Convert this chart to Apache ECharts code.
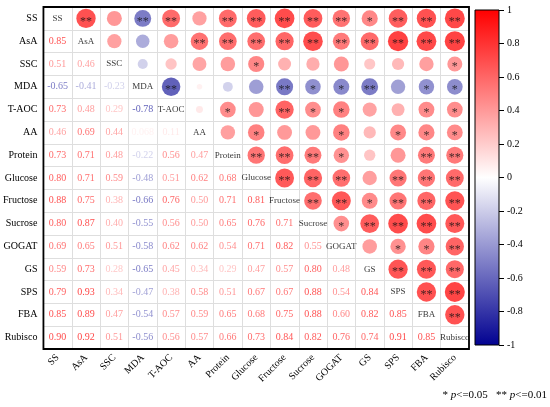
<!DOCTYPE html>
<html>
<head>
<meta charset="utf-8">
<script src="https://cdn.jsdelivr.net/npm/echarts@6/dist/echarts.min.js"></script>
<style>
html, body { margin: 0; padding: 0; background: #fff; }
#chart { width: 550px; height: 407px; }
</style>
</head>
<body>
<div id="chart"></div>
<script>
// variables, top to bottom / left to right
const names = ["SS", "AsA", "SSC", "MDA", "T-AOC", "AA", "Protein", "Glucose",
  "Fructose", "Sucrose", "GOGAT", "GS", "SPS", "FBA", "Rubisco"];

// lower triangle: row i holds r with columns 0..i-1
const corr = [
  [],
  [0.85],
  [0.51, 0.46],
  [-0.65, -0.41, -0.23],
  [0.73, 0.48, 0.29, -0.78],
  [0.46, 0.69, 0.44, 0.068, 0.11],
  [0.73, 0.71, 0.48, -0.22, 0.56, 0.47],
  [0.80, 0.71, 0.59, -0.48, 0.51, 0.62, 0.68],
  [0.88, 0.75, 0.38, -0.66, 0.76, 0.50, 0.71, 0.81],
  [0.80, 0.87, 0.40, -0.55, 0.56, 0.50, 0.65, 0.76, 0.71],
  [0.69, 0.65, 0.51, -0.58, 0.62, 0.62, 0.54, 0.71, 0.82, 0.55],
  [0.59, 0.73, 0.28, -0.65, 0.45, 0.34, 0.29, 0.47, 0.57, 0.80, 0.48],
  [0.79, 0.93, 0.34, -0.47, 0.38, 0.58, 0.51, 0.67, 0.67, 0.88, 0.54, 0.84],
  [0.85, 0.89, 0.47, -0.54, 0.57, 0.59, 0.65, 0.68, 0.75, 0.88, 0.60, 0.82, 0.85],
  [0.90, 0.92, 0.51, -0.56, 0.56, 0.57, 0.66, 0.73, 0.84, 0.82, 0.76, 0.74, 0.91, 0.85]
];

// significance marks, upper triangle: row i holds columns i+1..14
const sig = [
  ["**", "", "**", "**", "", "**", "**", "**", "**", "**", "*", "**", "**", "**"],
  ["", "", "", "**", "**", "**", "**", "**", "**", "**", "**", "**", "**"],
  ["", "", "", "", "*", "", "", "", "", "", "", "*"],
  ["**", "", "", "", "**", "*", "*", "**", "", "*", "*"],
  ["", "*", "", "**", "*", "*", "", "", "*", "*"],
  ["", "*", "", "", "*", "", "*", "*", "*"],
  ["**", "**", "**", "*", "", "", "**", "**"],
  ["**", "**", "**", "", "**", "**", "**"],
  ["**", "**", "*", "**", "**", "**"],
  ["*", "**", "**", "**", "**"],
  ["", "*", "*", "**"],
  ["**", "**", "**"],
  ["**", "**"],
  ["**"],
  []
];

const barTicks = [1, -1];

const FONT = '"Times New Roman", "Liberation Serif", serif';
const RED = [255, 0, 0];
const BLUE = [2, 2, 145];

function colorOf(v) {
  const t = Math.min(1, Math.abs(v));
  const end = v >= 0 ? RED : BLUE;
  const c = end.map(e => Math.round(255 + (e - 255) * t));
  return "rgb(" + c.join(",") + ")";
}

function fmt(v) {
  return Math.abs(v) < 0.1 ? v.toFixed(3) : v.toFixed(2);
}

let circles = [];
let numbers = [];
let diag = [];
names.forEach((n, i) => {
  diag.push([i, i, n]);
  for (let j = 0; j < i; j++) {
    const r = corr[i][j];
    numbers.push({ value: [j, i, r], label: { color: colorOf(r) } });
  }
  for (let j = i + 1; j < names.length; j++) {
    const r = corr[j][i];
    circles.push({
      value: [j, i, r],
      stars: sig[i][j - i - 1],
      itemStyle: { color: colorOf(r) }
    });
  }
});

const textOnly = {
  type: "scatter",
  symbol: "rect",
  symbolSize: 1,
  silent: true,
  itemStyle: { color: "rgba(0,0,0,0)" }
};

let options = {
  animation: false,
  backgroundColor: "#fff",
  grid: [
    { left: 43, top: 7, width: 426, height: 342, show: true,
      borderColor: "#000", borderWidth: 1.8, backgroundColor: "transparent", z: 5 },
    { left: 475, top: 10, width: 24, height: 335, show: true,
      borderColor: "#000", borderWidth: 1, backgroundColor: "transparent", z: 5 }
  ],
  xAxis: [
    {
      gridIndex: 0, type: "category", data: names, position: "bottom",
      axisLine: { show: false }, axisTick: { show: false },
      splitLine: { show: true, interval: 0, lineStyle: { color: "#dedede", width: 1 } },
      axisLabel: { interval: 0, rotate: 45, margin: 7, padding: [16, 0, 0, 0],
        fontFamily: FONT, fontSize: 10, color: "#000" }
    },
    { gridIndex: 1, type: "category", data: ["r"], show: false }
  ],
  yAxis: [
    {
      gridIndex: 0, type: "category", data: names, inverse: true,
      axisLine: { show: false }, axisTick: { show: false },
      splitLine: { show: true, interval: 0, lineStyle: { color: "#dedede", width: 1 } },
      axisLabel: { interval: 0, margin: 6, fontFamily: FONT, fontSize: 10, color: "#000" }
    },
    {
      gridIndex: 1, type: "value", min: -1, max: 1, interval: 0.2, position: "right",
      axisLine: { show: false },
      axisTick: { show: true, length: 5, lineStyle: { color: "#000" } },
      splitLine: { show: false },
      axisLabel: { margin: 8, fontFamily: FONT, fontSize: 10, color: "#000",
        formatter: v => String(Math.round(v * 10) / 10) }
    }
  ],
  series: [
    {
      type: "scatter",
      xAxisIndex: 0, yAxisIndex: 0,
      data: circles,
      symbolSize: d => 21 * Math.sqrt(Math.abs(d[2])),
      label: {
        show: true, position: "inside", offset: [0, 3],
        formatter: p => p.data.stars,
        fontFamily: FONT, fontSize: 12, color: "#111",
        textBorderWidth: 0, textBorderColor: "transparent"
      }
    },
    Object.assign({}, textOnly, {
      xAxisIndex: 0, yAxisIndex: 0,
      data: numbers,
      label: { show: true, position: "inside", formatter: p => fmt(p.value[2]),
        fontFamily: FONT, fontSize: 10, textBorderWidth: 0 }
    }),
    Object.assign({}, textOnly, {
      xAxisIndex: 0, yAxisIndex: 0,
      data: diag,
      label: { show: true, position: "inside", formatter: p => p.value[2],
        fontFamily: FONT, fontSize: 9, color: "#000", textBorderWidth: 0 }
    }),
    {
      type: "bar",
      xAxisIndex: 1, yAxisIndex: 1,
      data: barTicks,
      barWidth: "100%",
      silent: true,
      itemStyle: {
        color: new echarts.graphic.LinearGradient(0, 10, 0, 345, [
          { offset: 0, color: colorOf(1) },
          { offset: 0.5, color: "#fff" },
          { offset: 1, color: colorOf(-1) }
        ], true)
      }
    }
  ],
  graphic: [
    {
      type: "text", right: 3, top: 390,
      style: {
        text: "* {i|p}<=0.05   ** {i|p}<=0.01",
        font: "11px " + FONT,
        fill: "#000",
        rich: { i: { fontStyle: "italic", fontFamily: FONT, fontSize: 11 } }
      }
    }
  ]
};

let chart = echarts.init(document.getElementById("chart"));
chart.setOption(options);
</script>
</body>
</html>
